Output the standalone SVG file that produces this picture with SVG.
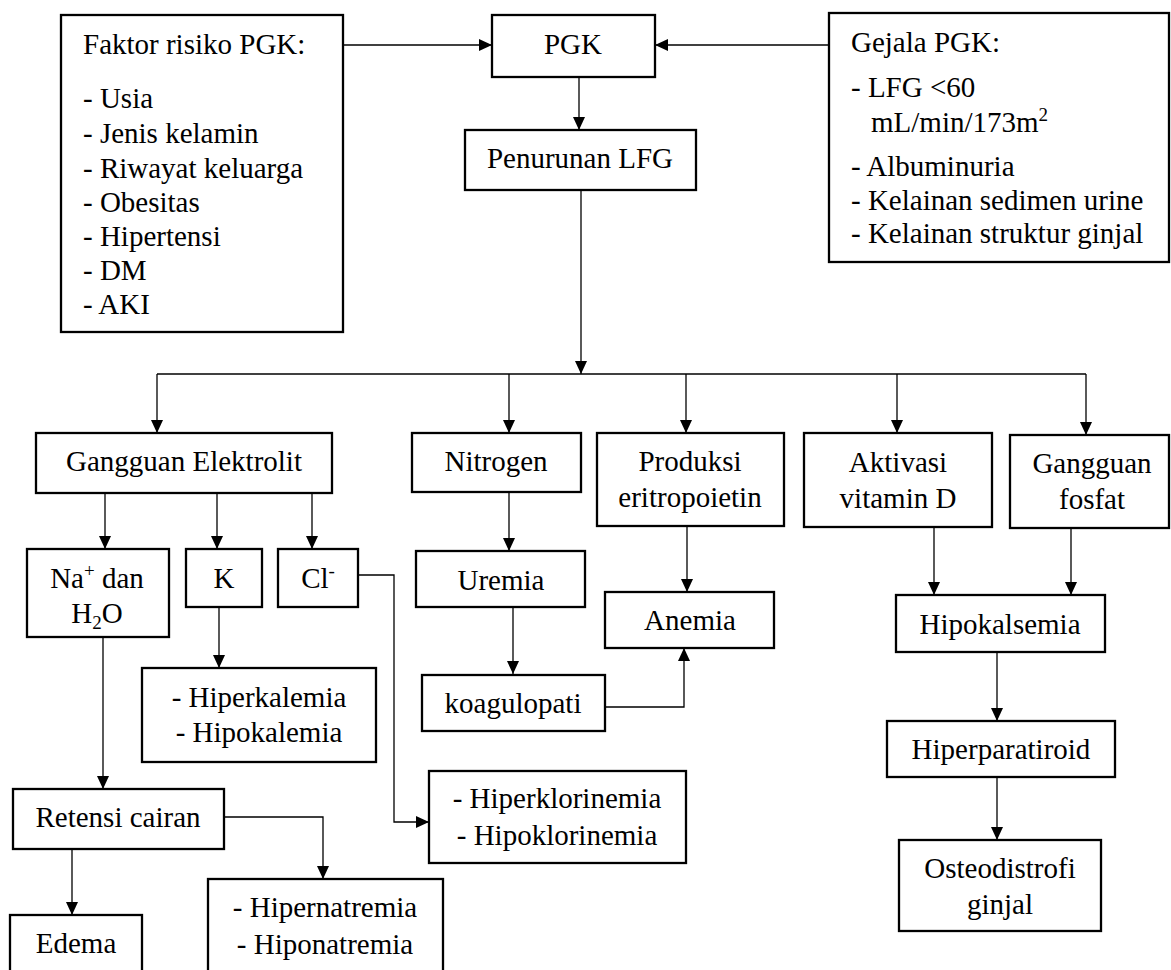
<svg xmlns="http://www.w3.org/2000/svg" width="1171" height="970" viewBox="0 0 1171 970">
<style>
.box{fill:#fff;stroke:#000;stroke-width:2.3}
.t{font-family:"Liberation Serif","Times New Roman",serif;font-size:29px;fill:#000}
.c{text-anchor:middle}
.s{font-size:19px}
.con path{fill:none;stroke:#000;stroke-width:1.3}
</style>
<defs>
<marker id="ah" markerUnits="userSpaceOnUse" markerWidth="13" markerHeight="12" refX="13" refY="6" orient="auto">
<path d="M0,0 L13,6 L0,12 z" fill="#000"/>
</marker>
</defs>
<rect width="1171" height="970" fill="#fff"/>
<g class="con">
<path d="M343,45 H492" marker-end="url(#ah)"/>
<path d="M829,45 H655" marker-end="url(#ah)"/>
<path d="M579,77 V130" marker-end="url(#ah)"/>
<path d="M581,190 V374" marker-end="url(#ah)"/>
<path d="M157,374 H1086"/>
<path d="M157,374 V433" marker-end="url(#ah)"/>
<path d="M509,374 V433" marker-end="url(#ah)"/>
<path d="M686,374 V433" marker-end="url(#ah)"/>
<path d="M897,374 V433" marker-end="url(#ah)"/>
<path d="M1086,374 V435" marker-end="url(#ah)"/>
<path d="M105,493 V549" marker-end="url(#ah)"/>
<path d="M217,493 V549" marker-end="url(#ah)"/>
<path d="M312,493 V549" marker-end="url(#ah)"/>
<path d="M103,637 V789" marker-end="url(#ah)"/>
<path d="M219,607 V668" marker-end="url(#ah)"/>
<path d="M358,575 H394 V822 H429" marker-end="url(#ah)"/>
<path d="M72,849 V915" marker-end="url(#ah)"/>
<path d="M224,817 H323 V879" marker-end="url(#ah)"/>
<path d="M509,492 V551" marker-end="url(#ah)"/>
<path d="M513,607 V674" marker-end="url(#ah)"/>
<path d="M605,707 H684 V648" marker-end="url(#ah)"/>
<path d="M687,526 V592" marker-end="url(#ah)"/>
<path d="M934,527 V595" marker-end="url(#ah)"/>
<path d="M1071,528 V595" marker-end="url(#ah)"/>
<path d="M997,652 V721" marker-end="url(#ah)"/>
<path d="M997,777 V840" marker-end="url(#ah)"/>
</g>
<g id="faktor">
<rect class="box" x="61" y="15" width="282" height="317"/>
<text class="t" x="83" y="54">Faktor risiko PGK:</text>
<text class="t" x="83" y="108">- Usia</text>
<text class="t" x="83" y="143">- Jenis kelamin</text>
<text class="t" x="83" y="178">- Riwayat keluarga</text>
<text class="t" x="83" y="212">- Obesitas</text>
<text class="t" x="83" y="246">- Hipertensi</text>
<text class="t" x="83" y="280">- DM</text>
<text class="t" x="83" y="314">- AKI</text>
</g>
<g id="pgk">
<rect class="box" x="492" y="15" width="163" height="62"/>
<text class="t c" x="573" y="54">PGK</text>
</g>
<g id="gejala">
<rect class="box" x="829" y="13" width="340" height="249"/>
<text class="t" x="851" y="52">Gejala PGK:</text>
<text class="t" x="851" y="97">- LFG &lt;60</text>
<text class="t" x="871" y="132">mL/min/173m<tspan class="s" dy="-11">2</tspan></text>
<text class="t" x="851" y="176">- Albuminuria</text>
<text class="t" x="851" y="210">- Kelainan sedimen urine</text>
<text class="t" x="851" y="243">- Kelainan struktur ginjal</text>
</g>
<g id="penurunan">
<rect class="box" x="465" y="130" width="231" height="60"/>
<text class="t c" x="580" y="168">Penurunan LFG</text>
</g>
<g id="elektrolit">
<rect class="box" x="36" y="433" width="296" height="60"/>
<text class="t c" x="184" y="471">Gangguan Elektrolit</text>
</g>
<g id="nitrogen">
<rect class="box" x="412" y="433" width="169" height="59"/>
<text class="t c" x="496" y="471">Nitrogen</text>
</g>
<g id="produksi">
<rect class="box" x="597" y="433" width="187" height="93"/>
<text class="t c" x="690" y="471">Produksi</text>
<text class="t c" x="690" y="507">eritropoietin</text>
</g>
<g id="aktivasi">
<rect class="box" x="804" y="433" width="188" height="94"/>
<text class="t c" x="898" y="472">Aktivasi</text>
<text class="t c" x="898" y="508">vitamin D</text>
</g>
<g id="fosfat">
<rect class="box" x="1010" y="435" width="159" height="93"/>
<text class="t c" x="1092" y="473">Gangguan</text>
<text class="t c" x="1092" y="509">fosfat</text>
</g>
<g id="na">
<rect class="box" x="27" y="549" width="142" height="88"/>
<text class="t c" x="97" y="588">Na<tspan class="s" dy="-11">+</tspan><tspan dy="11"> dan</tspan></text>
<text class="t c" x="97" y="623">H<tspan class="s" dy="6">2</tspan><tspan dy="-6">O</tspan></text>
</g>
<g id="k">
<rect class="box" x="186" y="549" width="76" height="58"/>
<text class="t c" x="224" y="588">K</text>
</g>
<g id="cl">
<rect class="box" x="278" y="549" width="80" height="58"/>
<text class="t c" x="318" y="588">Cl<tspan class="s" dy="-11">-</tspan></text>
</g>
<g id="uremia">
<rect class="box" x="416" y="551" width="169" height="56"/>
<text class="t c" x="501" y="590">Uremia</text>
</g>
<g id="anemia">
<rect class="box" x="605" y="592" width="169" height="56"/>
<text class="t c" x="690" y="630">Anemia</text>
</g>
<g id="hipokalsemia">
<rect class="box" x="896" y="595" width="209" height="57"/>
<text class="t c" x="1000" y="634">Hipokalsemia</text>
</g>
<g id="kalemia">
<rect class="box" x="142" y="668" width="234" height="94"/>
<text class="t c" x="259" y="707">- Hiperkalemia</text>
<text class="t c" x="259" y="742">- Hipokalemia</text>
</g>
<g id="koagulopati">
<rect class="box" x="422" y="675" width="183" height="56"/>
<text class="t c" x="513" y="713">koagulopati</text>
</g>
<g id="hiperparatiroid">
<rect class="box" x="887" y="721" width="228" height="56"/>
<text class="t c" x="1001" y="759">Hiperparatiroid</text>
</g>
<g id="klorinemia">
<rect class="box" x="429" y="771" width="257" height="92"/>
<text class="t c" x="557" y="808">- Hiperklorinemia</text>
<text class="t c" x="557" y="845">- Hipoklorinemia</text>
</g>
<g id="retensi">
<rect class="box" x="13" y="789" width="211" height="60"/>
<text class="t c" x="118" y="827">Retensi cairan</text>
</g>
<g id="osteodistrofi">
<rect class="box" x="899" y="840" width="202" height="91"/>
<text class="t c" x="1000" y="878">Osteodistrofi</text>
<text class="t c" x="1000" y="914">ginjal</text>
</g>
<g id="natremia">
<rect class="box" x="208" y="879" width="235" height="100"/>
<text class="t c" x="325" y="917">- Hipernatremia</text>
<text class="t c" x="325" y="954">- Hiponatremia</text>
</g>
<g id="edema">
<rect class="box" x="10" y="915" width="132" height="64"/>
<text class="t c" x="76" y="953">Edema</text>
</g>
</svg>
